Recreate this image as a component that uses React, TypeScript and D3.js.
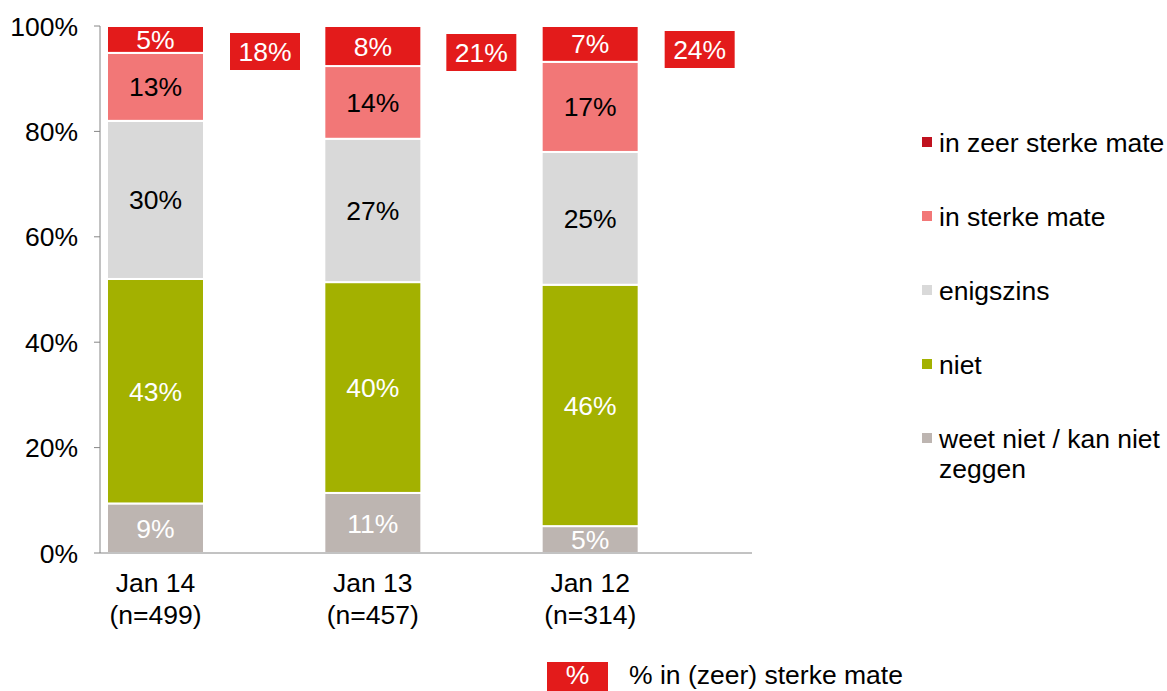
import React from "react";
import * as d3 from "d3";

const categories = ["Jan 14", "Jan 13", "Jan 12"];
const sampleSizes = ["(n=499)", "(n=457)", "(n=314)"];
const seriesNames = ["weet niet / kan niet zeggen", "niet", "enigszins", "in sterke mate", "in zeer sterke mate"];
const weetNiet = [9.4, 11.4, 5.1];
const niet = [42.6, 40.0, 45.8];
const enigszins = [30.0, 27.2, 25.2];
const sterk = [12.9, 13.8, 17.1];
const zeerSterk = [5.1, 7.6, 6.8];
const yTicks = [0, 20, 40, 60, 80, 100];

const barColors = ["#bdb5b1", "#a3b100", "#d9d9d9", "#f27777", "#e31b1b"];
const legendColors = ["#bdb5b1", "#a3b100", "#d9d9d9", "#f27777", "#c0121f"];
const textColors = ["#fff", "#fff", "#000", "#000", "#fff"];

const FONT = "'Liberation Sans', Arial, sans-serif";
const FS = 26.5;

const App = () => {
  const width = 1167;
  const height = 691;
  const left = 100;
  const right = 752;
  const top = 26;
  const bottom = 553;

  const rows = categories.map((c, i) => ({
    cat: c,
    s0: weetNiet[i],
    s1: niet[i],
    s2: enigszins[i],
    s3: sterk[i],
    s4: zeerSterk[i],
  }));
  const keys = ["s0", "s1", "s2", "s3", "s4"];
  const stacked = d3.stack<any>().keys(keys)(rows);

  const x = d3.scaleBand().domain(categories).range([left, right]);
  const y = d3.scaleLinear().domain([0, 100]).range([bottom, top]);
  const barOff = 7;
  const barW = 97;
  const boxOff = [130, 129, 130];
  const boxY = [33, 34, 31];

  return (
    <svg width={width} height={height} style={{ position: "absolute", left: 0, top: 0 }} fontFamily={FONT}>
      {/* y axis */}
      <line x1={left} x2={left} y1={top} y2={bottom} stroke="#868686" strokeWidth={1} />
      {yTicks.map(t => (
        <g key={t}>
          <line x1={left - 6} x2={left} y1={y(t)} y2={y(t)} stroke="#868686" />
          <text x={left - 22} y={y(t)} dy="0.36em" textAnchor="end" fontSize={FS} fill="#000">
            {t}%
          </text>
        </g>
      ))}
      {/* bars */}
      {stacked.map((layer, si) => (
        <g key={si}>
          {layer.map((d, i) => {
            const x0 = (x(categories[i]) as number) + barOff;
            const y0 = y(d[1]);
            const h = y(d[0]) - y(d[1]);
            const v = d[1] - d[0];
            return (
              <g key={i}>
                <rect x={x0} y={y0} width={barW} height={h} fill={barColors[si]} stroke="#fff" strokeWidth={2} />
                <text x={x0 + barW / 2} y={y0 + h / 2} dy="0.36em" textAnchor="middle" fontSize={FS} fill={textColors[si]}>
                  {Math.round(v)}%
                </text>
              </g>
            );
          })}
        </g>
      ))}
      {/* x axis */}
      <line x1={left} x2={right} y1={bottom} y2={bottom} stroke="#868686" strokeWidth={1} />
      {categories.map((c, i) => {
        const cx = (x(c) as number) + barOff + barW / 2;
        return (
          <g key={c}>
            <text x={cx} y={592} textAnchor="middle" fontSize={FS}>{c}</text>
            <text x={cx} y={624} textAnchor="middle" fontSize={FS}>{sampleSizes[i]}</text>
          </g>
        );
      })}
      {/* total boxes */}
      {categories.map((c, i) => {
        const bx = (x(c) as number) + boxOff[i];
        const total = Math.round(sterk[i] + zeerSterk[i]);
        return (
          <g key={c}>
            <rect x={bx} y={boxY[i]} width={70} height={37} fill="#e31b1b" />
            <text x={bx + 35} y={boxY[i] + 18.5} dy="0.36em" textAnchor="middle" fontSize={FS} fill="#fff">
              {total}%
            </text>
          </g>
        );
      })}
      {/* legend */}
      {seriesNames
        .map((n, i) => ({ n, i }))
        .reverse()
        .map((d, k) => {
          const cy = 142 + k * 74;
          const lines = d.n === "weet niet / kan niet zeggen" ? ["weet niet / kan niet", "zeggen"] : [d.n];
          return (
            <g key={d.n}>
              <rect x={922} y={cy - 5} width={10} height={10} fill={legendColors[d.i]} />
              {lines.map((l, li) => (
                <text key={li} x={939} y={cy + li * 30} dy="0.36em" fontSize={FS}>{l}</text>
              ))}
            </g>
          );
        })}
      {/* bottom legend */}
      <rect x={547} y={662} width={61} height={29} fill="#e31b1b" />
      <text x={577.5} y={674} dy="0.36em" textAnchor="middle" fontSize={FS} fill="#fff">%</text>
      <text x={629} y={674} dy="0.36em" fontSize={FS}>% in (zeer) sterke mate</text>
    </svg>
  );
};

export default App;
